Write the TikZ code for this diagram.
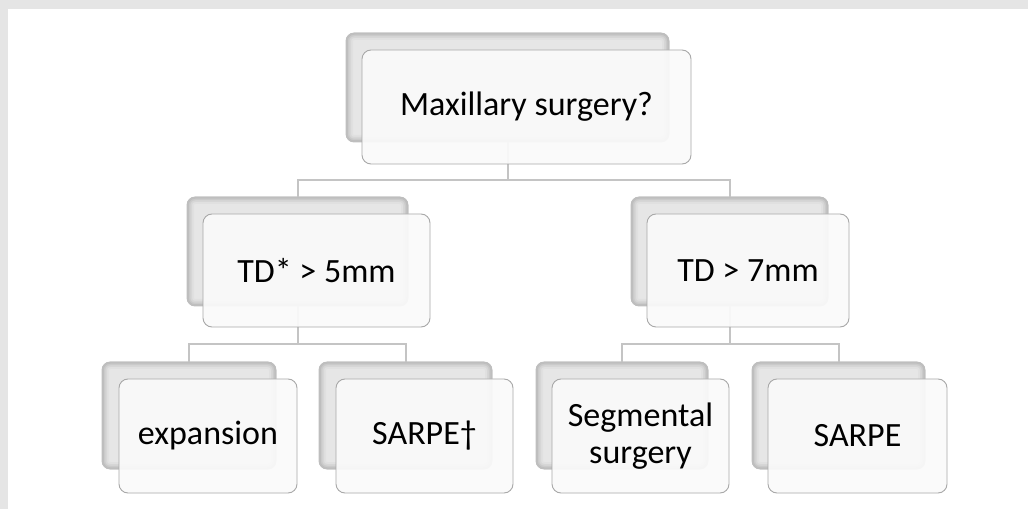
\documentclass[tikz,border=0pt]{standalone}
\usepackage{fontspec}
\setmainfont{Carlito}
\begin{document}
\begin{tikzpicture}[x=1pt,y=1pt,
  backbox/.style={rectangle, rounded corners=8pt, fill=bkfill, draw=bk3, line width=0.8pt,
    inner sep=0pt, outer sep=0pt,
    path picture={
      \foreach \w/\c in {14/bk0, 10/bk1, 6.5/bk2, 3.5/bk3}
        \draw[\c, line width=\w pt, rounded corners=8pt]
          (path picture bounding box.south west) rectangle (path picture bounding box.north east);
    }},
  frontbox/.style={rectangle, rounded corners=9pt, fill=frfill, fill opacity=0.93, text opacity=1,
    draw=frline, line width=0.9pt, inner sep=0pt, outer sep=0pt, align=center,
    font=\fontsize{34}{37}\selectfont, text=black},
  conn/.style={draw=connc, line width=2pt}
]
\definecolor{bkfill}{HTML}{E6E6E6}
\definecolor{bk0}{HTML}{E0E0E0}
\definecolor{bk1}{HTML}{D6D6D6}
\definecolor{bk2}{HTML}{CACACA}
\definecolor{bk3}{HTML}{BEBEBE}
\definecolor{frfill}{HTML}{FAFAFA}
\definecolor{frline}{HTML}{A8A8A8}
\definecolor{connc}{HTML}{C4C4C4}
\definecolor{framec}{HTML}{E5E5E5}

% canvas and frame
\fill[white] (0,0) rectangle (1028,509);
\useasboundingbox (0,0) rectangle (1028,509);
\fill[framec] (0,500) rectangle (1028,509);
\fill[framec] (0,0) rectangle (8,509);

% back boxes
\node[backbox, minimum width=323pt, minimum height=109pt] (topb) at (507.5,421.5) {};
\node[backbox, minimum width=221pt, minimum height=109pt] (lb) at (297.5,257.5) {};
\node[backbox, minimum width=197pt, minimum height=109pt] (rb) at (729.5,257.5) {};
\node[backbox, minimum width=174pt, minimum height=107pt] (llb) at (189,93.5) {};
\node[backbox, minimum width=173pt, minimum height=107pt] (lrb) at (405.5,93.5) {};
\node[backbox, minimum width=172pt, minimum height=107pt] (rlb) at (622,93.5) {};
\node[backbox, minimum width=173pt, minimum height=107pt] (rrb) at (838.5,93.5) {};

% connectors
\coordinate (j1) at ([yshift=-38pt]topb.south);
\coordinate (j2) at ([yshift=-38pt]lb.south);
\coordinate (j3) at ([yshift=-38pt]rb.south);
\draw[conn] (topb.south) -- (j1);
\draw[conn] (j1) -| (lb.north);
\draw[conn] (j1) -| (rb.north);
\draw[conn] (lb.south) -- (j2);
\draw[conn] (j2) -| (llb.north);
\draw[conn] (j2) -| (lrb.north);
\draw[conn] (rb.south) -- (j3);
\draw[conn] (j3) -| (rlb.north);
\draw[conn] (j3) -| (rrb.north);

% front boxes
\node[frontbox, minimum width=329pt, minimum height=114pt] (topf) at (526.5,402) {Maxillary surgery?};
\node[frontbox, minimum width=227pt, minimum height=113pt] (lf) at (316.5,238.5) {TD* > 5mm};
\node[frontbox, minimum width=202pt, minimum height=113pt] (rf) at (748,238.5) {TD > 7mm};
\node[frontbox, minimum width=178pt, minimum height=114pt] (llf) at (208,73) {expansion};
\node[frontbox, minimum width=177pt, minimum height=114pt] (lrf) at (424.5,73) {SARPE†};
\node[frontbox, minimum width=177pt, minimum height=114pt] (rlf) at (640.5,73) {Segmental\\surgery};
\node[frontbox, minimum width=179pt, minimum height=114pt] (rrf) at (857.5,73) {SARPE};
\end{tikzpicture}
\end{document}
